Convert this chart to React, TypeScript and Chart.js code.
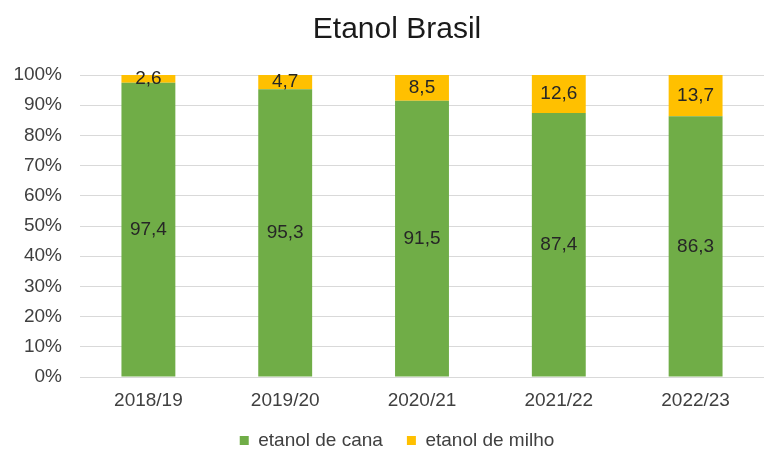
import React, { useEffect, useRef } from "react";
import { Chart, registerables } from "chart.js";

Chart.register(...registerables);

const categories = ["2018/19", "2019/20", "2020/21", "2021/22", "2022/23"];
const canaValues = [97.4, 95.3, 91.5, 87.4, 86.3];
const milhoValues = [2.6, 4.7, 8.5, 12.6, 13.7];
const seriesNames = ["etanol de cana", "etanol de milho"];
const titleText = "Etanol Brasil";

const FONT = "'Liberation Sans', Arial, sans-serif";

const dataLabelPlugin = {
  id: "dataLabels",
  afterDatasetsDraw(chart: any) {
    const ctx = chart.ctx;
    ctx.save();
    ctx.font = `19px ${FONT}`;
    ctx.fillStyle = "#262626";
    ctx.textAlign = "center";
    ctx.textBaseline = "middle";
    chart.data.datasets.forEach((ds: any, di: number) => {
      const meta = chart.getDatasetMeta(di);
      meta.data.forEach((el: any, i: number) => {
        const v = ds.data[i];
        const y = (el.y + el.base) / 2;
        ctx.fillText(String(v).replace(".", ","), el.x, y);
      });
    });
    ctx.restore();
  },
};

export default function App() {
  const ref = useRef<HTMLCanvasElement>(null);
  useEffect(() => {
    if (!ref.current) return;
    const chart = new Chart(ref.current, {
      type: "bar",
      data: {
        labels: categories,
        datasets: [
          {
            label: seriesNames[0],
            data: canaValues,
            backgroundColor: "#70AD47",
            barPercentage: 0.394,
            categoryPercentage: 1,
          },
          {
            label: seriesNames[1],
            data: milhoValues,
            backgroundColor: "#FFC000",
            barPercentage: 0.394,
            categoryPercentage: 1,
          },
        ],
      },
      options: {
        animation: false,
        responsive: false,
        layout: { padding: { left: 30, right: 0, top: 0, bottom: 0 } },
        plugins: {
          title: {
            display: true,
            text: titleText,
            color: "#1a1a1a",
            font: { family: FONT, size: 30, weight: "normal" },
            padding: { top: 12, bottom: 27 },
          },
          legend: {
            position: "bottom",
            labels: {
              boxWidth: 9,
              boxHeight: 9,
              color: "#404040",
              font: { family: FONT, size: 19 },
              padding: 24,
            },
          },
          tooltip: { enabled: false },
        },
        scales: {
          x: {
            stacked: true,
            afterFit(scale: any) {
              scale.height = 30;
              scale._computeLabelArea = () => undefined;
            },
            grid: { display: false, drawTicks: false },
            border: { display: false },
            ticks: {
              color: "#404040",
              font: { family: FONT, size: 19 },
              padding: 12,
            },
          },
          y: {
            stacked: true,
            min: 0,
            max: 100,
            afterFit(scale: any) {
              scale.width = 50;
              scale._computeLabelArea = () => undefined;
            },
            grid: { color: "#d9d9d9", drawTicks: false },
            border: { display: false },
            ticks: {
              stepSize: 10,
              color: "#404040",
              font: { family: FONT, size: 19 },
              padding: 18,
              callback: (v: any) => v + "%",
            },
          },
        },
      },
      plugins: [dataLabelPlugin],
    });
    return () => chart.destroy();
  }, []);
  return (
    <div style={{ position: "fixed", left: 0, top: 0, width: 764, height: 460, background: "#fff" }}>
      <canvas ref={ref} width={764} height={460} />
    </div>
  );
}
